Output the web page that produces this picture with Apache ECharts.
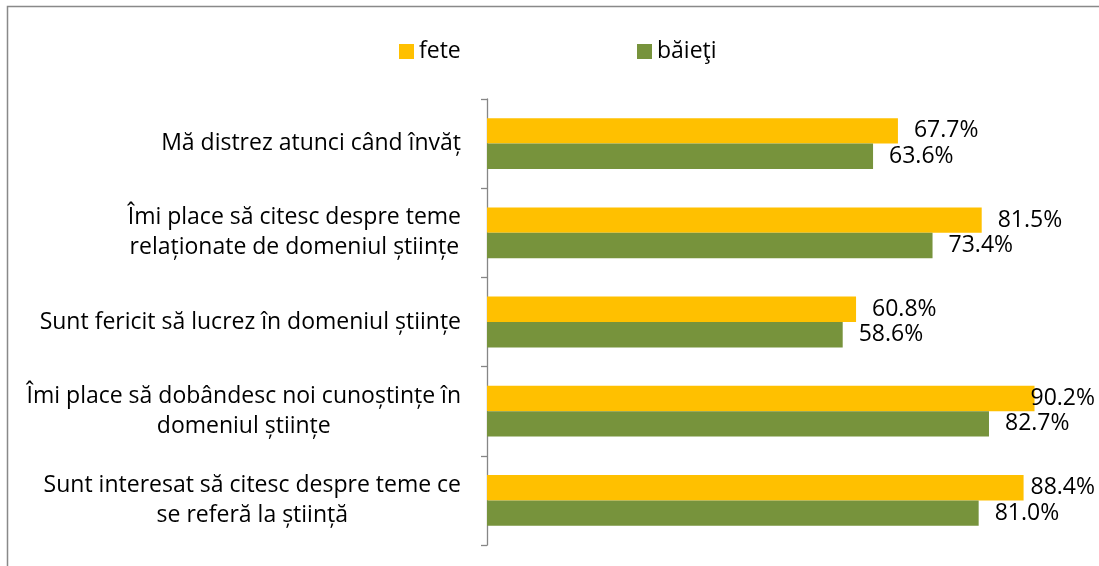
<!DOCTYPE html>
<html>
<head>
<meta charset="utf-8">
<script src="https://cdn.jsdelivr.net/npm/echarts@6/dist/echarts.min.js"></script>
<style>
html,body{margin:0;padding:0;background:#fff;}
#chart{width:1099px;height:566px;}
</style>
</head>
<body>
<div id="chart"></div>
<script>
const categories = [
  "Mă distrez atunci când învăț",
  "Îmi place să citesc despre teme\nrelaționate de domeniul științe",
  "Sunt fericit să lucrez în domeniul științe",
  "Îmi place să dobândesc noi cunoștințe în\ndomeniul științe",
  "Sunt interesat să citesc despre teme ce\nse referă la știință"
];
const seriesNames = ["fete", "băieţi"];
const fete = [67.7, 81.5, 60.8, 90.2, 88.4];
const baieti = [63.6, 73.4, 58.6, 82.7, 81.0];

const FONT = "Open Sans";
const FS = 23;
const GRID_LEFT = 487, GRID_RIGHT = 5, X_MAX = 100;
const chart = echarts.init(document.getElementById('chart'));

// keep labels inside the chart area, as the original does
const measureCtx = document.createElement('canvas').getContext('2d');
measureCtx.font = FS + 'px "' + FONT + '"';
function labelDistance(v) {
  const pxPerUnit = (chart.getWidth() - GRID_LEFT - GRID_RIGHT) / X_MAX;
  const room = (X_MAX - v) * pxPerUnit;
  const w = measureCtx.measureText(v.toFixed(1) + '%').width;
  return Math.min(16, room - w + 1);
}
function makeData(vals) {
  return vals.map(v => ({ value: v, label: { distance: labelDistance(v) } }));
}

const option = {
  animation: false,
  backgroundColor: '#ffffff',
  textStyle: { fontFamily: FONT },
  graphic: [{
    type: 'rect',
    shape: { x: 7.5, y: 6.5, width: 1200, height: 700 },
    style: { fill: 'none', stroke: '#898989', lineWidth: 1.5 },
    silent: true
  }],
  legend: [
    {
      data: [seriesNames[0]], left: 394, top: 35,
      itemWidth: 15, itemHeight: 15, icon: 'rect', itemGap: 0,
      textStyle: { fontFamily: FONT, fontSize: FS, color: '#000' }
    },
    {
      data: [seriesNames[1]], left: 632, top: 35,
      itemWidth: 15, itemHeight: 15, icon: 'rect', itemGap: 0,
      textStyle: { fontFamily: FONT, fontSize: FS, color: '#000' }
    }
  ],
  grid: { left: GRID_LEFT, right: GRID_RIGHT, top: 99, bottom: 21, containLabel: false },
  xAxis: {
    type: 'value', min: 0, max: X_MAX,
    show: false
  },
  yAxis: {
    type: 'category',
    data: categories,
    inverse: true,
    axisLine: { show: true, lineStyle: { color: '#868686', width: 1.3 } },
    axisTick: { show: true, length: 6, lineStyle: { color: '#868686', width: 1.3 } },
    axisLabel: {
      margin: 26,
      align: 'right',
      fontFamily: FONT,
      fontSize: FS,
      color: '#000',
      lineHeight: 30,
      formatter: v => v.split('\n').map(l => '{c|' + l + '}').join('\n'),
      rich: { c: { align: 'center', fontFamily: FONT, fontSize: FS, color: '#000', lineHeight: 30 } }
    },
    splitLine: { show: false }
  },
  series: [
    {
      name: seriesNames[0], type: 'bar', data: makeData(fete),
      itemStyle: { color: '#FFC000' },
      barGap: '0%', barCategoryGap: '43%',
      label: {
        show: true, position: 'right', distance: 16,
        fontFamily: FONT, fontSize: FS, color: '#000',
        formatter: p => p.value.toFixed(1) + '%'
      }
    },
    {
      name: seriesNames[1], type: 'bar', data: makeData(baieti),
      itemStyle: { color: '#77933C' },
      barGap: '0%', barCategoryGap: '43%',
      label: {
        show: true, position: 'right', distance: 16,
        fontFamily: FONT, fontSize: FS, color: '#000',
        formatter: p => p.value.toFixed(1) + '%'
      }
    }
  ]
};
chart.setOption(option);
</script>
</body>
</html>
